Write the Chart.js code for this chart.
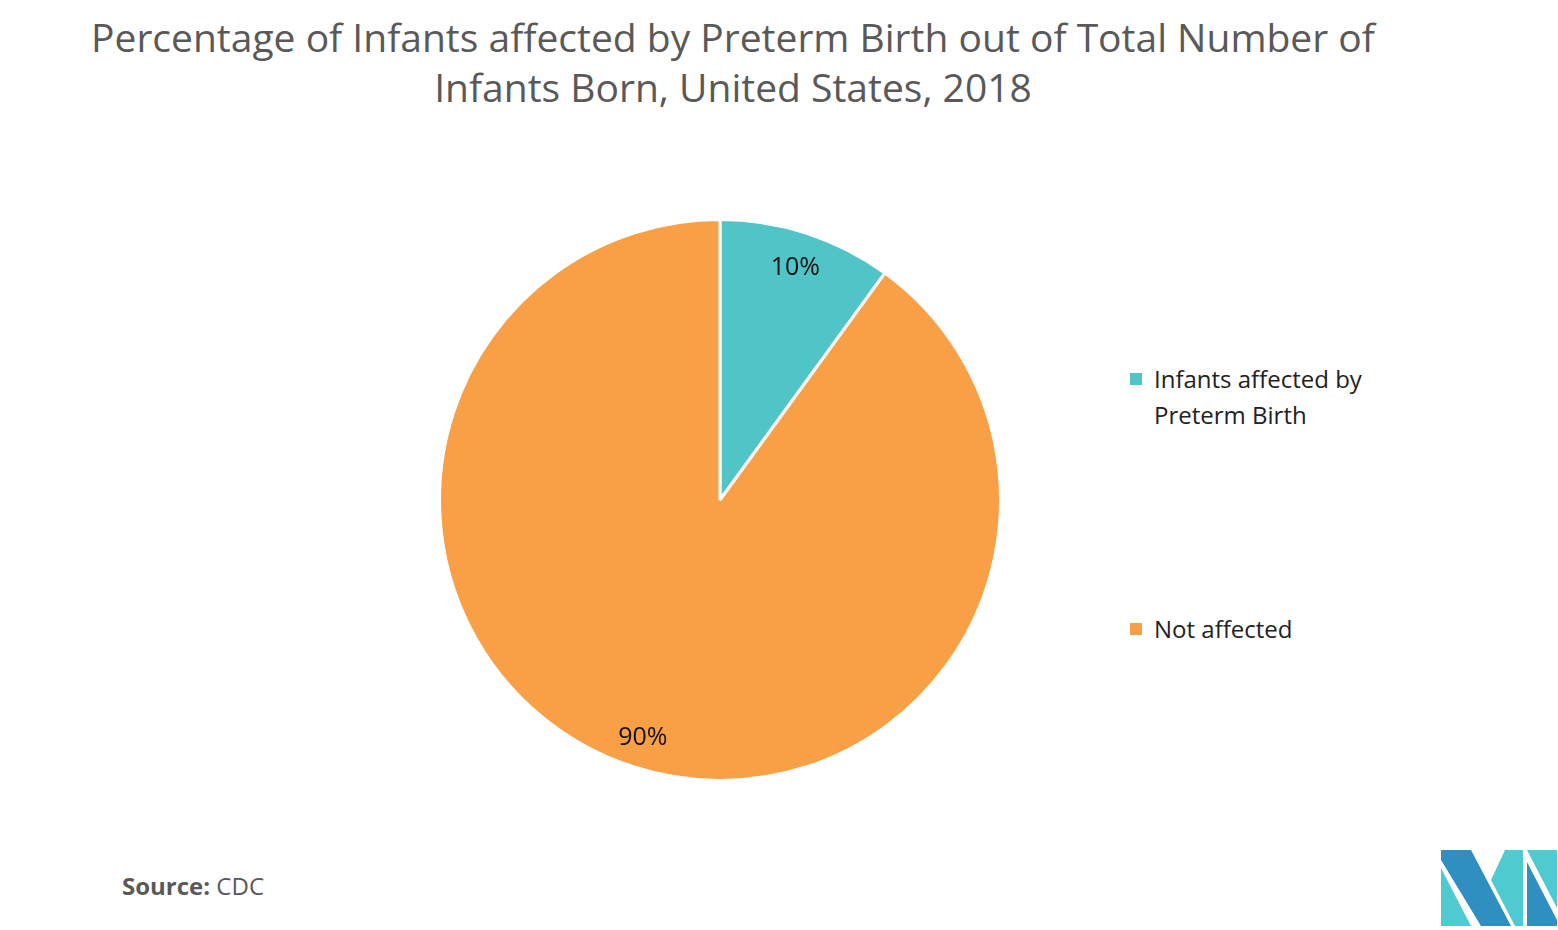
<!DOCTYPE html>
<html><head><meta charset="utf-8">
<script src="https://cdn.jsdelivr.net/npm/chart.js@4"></script>
<style>
body{margin:0;width:1558px;height:930px;background:#fff;font-family:"Open Sans","Noto Sans",sans-serif;position:relative;overflow:hidden}
#title{position:absolute;left:0;width:1466px;top:12px;text-align:center;font-size:39px;line-height:50px;color:#595959}
#wrap{position:absolute;left:420px;top:200px;width:600px;height:600px}
#legend{position:absolute;left:1130px;top:361px;font-size:24px;color:#222;line-height:36px}
.item{position:absolute;white-space:nowrap}
.sw{position:absolute;left:0;top:12px;width:12px;height:12px}
#src{position:absolute;left:122px;top:869px;font-size:24px;color:#595959}
#logo{position:absolute;left:1441px;top:850px}
</style></head><body>
<div id="title">Percentage of Infants affected by Preterm Birth out of Total Number of<br>Infants Born, United States, 2018</div>
<div id="wrap"><canvas id="c"></canvas></div>
<div id="legend"></div>
<div id="src"><b>Source:</b> CDC</div>
<svg id="logo" width="116" height="76" viewBox="0 0 116 76">
<polygon points="0,0 30,0 70,76 40,76 0,10" fill="#2e8fc0"/>
<polygon points="0,18 30,76 0,76" fill="#4ecad0"/>
<polygon points="50,30 64,0 82,0 82,76 74,76" fill="#4ecad0"/>
<polygon points="86,0 116,0 116,58" fill="#4ecad0"/>
<polygon points="86,12 116,70 116,76 86,76" fill="#2e8fc0"/>
</svg>
<script>
var labels = ['Infants affected by Preterm Birth', 'Not affected'];
var legendLines = [['Infants affected by', 'Preterm Birth'], ['Not affected']];
var values = [10, 90];
var colors = ['#50c4c7', '#f9a046'];

var lg = document.getElementById('legend');
var tops = [0, 250];
legendLines.forEach(function(l, i) {
  var d = document.createElement('div');
  d.className = 'item'; d.style.top = tops[i] + 'px';
  d.innerHTML = '<span class="sw" style="background:' + colors[i] + '"></span><div style="margin-left:24px">' + l.join('<br>') + '</div>';
  lg.appendChild(d);
});

var pctLabels = {
  id: 'pct',
  afterDatasetsDraw: function(chart) {
    var ctx = chart.ctx, meta = chart.getDatasetMeta(0);
    ctx.save();
    ctx.font = '25px "Open Sans", sans-serif'; ctx.fillStyle = '#111';
    ctx.textAlign = 'center'; ctx.textBaseline = 'middle';
    var rf = [0.87, 0.89];
    meta.data.forEach(function(a, i) {
      var mid = (a.startAngle + a.endAngle) / 2, r = a.outerRadius * rf[i];
      ctx.fillText(values[i] + '%', a.x + Math.cos(mid) * r, a.y + Math.sin(mid) * r);
    });
    ctx.restore();
  }
};

new Chart(document.getElementById('c'), {
  type: 'pie',
  data: { labels: labels, datasets: [{ data: values, backgroundColor: colors, borderColor: '#fff', borderWidth: 3 }] },
  options: {
    responsive: true, maintainAspectRatio: false, animation: false,
    layout: { padding: 18 },
    plugins: { legend: { display: false }, tooltip: { enabled: false } }
  },
  plugins: [pctLabels]
});
</script>
</body></html>
